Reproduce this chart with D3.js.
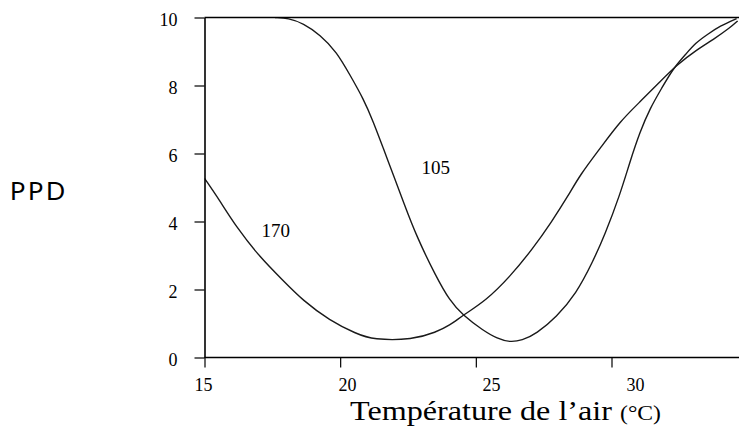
<!DOCTYPE html>
<html><head><meta charset="utf-8">
<script src="https://cdn.jsdelivr.net/npm/d3@7"></script>
<style>body{margin:0;background:#fff}svg{display:block}</style>
</head><body>
<script>
const xTicks = [15, 20, 25, 30];
const yTicks = [0, 2, 4, 6, 8, 10];
const t105 = [17.6,18.09,18.64,19.26,19.87,20.36,20.85,21.22,21.59,21.96,22.33,22.82,23.54,24.03,24.52,25.26,25.8,26.25,26.7,27.23,27.97,28.7,29.3,29.75,30.31,30.68,31.05,31.42,31.85,32.28,32.77,33.1,33.51,34.0,34.61];
const ppd105 = [10,9.98,9.83,9.49,8.99,8.31,7.62,6.94,6.15,5.37,4.58,3.55,2.37,1.68,1.24,0.80,0.55,0.45,0.50,0.70,1.19,1.88,2.8,3.6,4.78,5.76,6.64,7.33,7.92,8.51,8.95,9.25,9.49,9.75,9.97];
const t170 = [15,15.55,16.17,17.03,17.89,18.62,19.61,20.59,21.21,22.68,23.54,24.03,24.52,25.38,26.25,27.1,27.8,28.4,28.84,29.58,30.31,31.05,31.79,32.4,33.14,33.75,34.37,34.65];
const ppd170 = [5.27,4.63,3.84,2.96,2.27,1.68,1.09,0.70,0.52,0.52,0.75,0.94,1.24,1.68,2.37,3.2,4.0,4.75,5.37,6.15,6.94,7.52,8.11,8.6,9.05,9.35,9.7,9.9];
const curveLabels = ["105", "170"];
const labelT = [23.0, 17.1];
const labelP = [5.4, 3.55];

const serif = "'Liberation Serif', 'Times New Roman', serif";
const W = 739, H = 434;
const svg = d3.select("body").append("svg").attr("width", W).attr("height", H);
const x = d3.scaleLinear().domain([15, 30]).range([204.5, 611.5]);
const xLab = d3.scaleLinear().domain([15, 30]).range([203, 635]);
const y = d3.scaleLinear().domain([0, 10]).range([357.5, 17.5]);
const x0 = x(15), x1 = W;

svg.append("defs").append("clipPath").attr("id", "clip")
  .append("rect").attr("x", x0).attr("y", y(10)).attr("width", x1 - x0).attr("height", y(0) - y(10));

const line = d3.line().x(d => x(d[0])).y(d => y(d[1])).curve(d3.curveBasis);
const series = [d3.zip(t105, ppd105), d3.zip(t170, ppd170)];
svg.append("g").attr("clip-path", "url(#clip)").selectAll("path").data(series).join("path")
  .attr("d", line).attr("fill", "none").attr("stroke", "#1a1a1a").attr("stroke-width", 1.4);

// axes
const gy = svg.append("g").attr("transform", `translate(${x0},0)`)
  .call(d3.axisLeft(y).tickValues(yTicks).tickSize(10).tickSizeOuter(0).tickFormat(d3.format("d")));
const gx = svg.append("g").attr("transform", `translate(0,${y(0)})`)
  .call(d3.axisBottom(x).tickValues(xTicks).tickSize(10).tickSizeOuter(0).tickFormat(d3.format("d")));
for (const g of [gy, gx]) {
  g.attr("font-family", serif).attr("font-size", 18);
  g.select(".domain").attr("stroke", "#000").attr("stroke-width", 1.6);
  g.selectAll(".tick line").attr("stroke", "#000").attr("stroke-width", 1.2);
  g.selectAll(".tick text").style("font-family", serif).style("font-size", "18px").attr("fill", "#000");
}
gx.select(".domain").attr("d", `M${x0},0H${x1}`);
gy.selectAll(".tick text").attr("x", -27).attr("dy", "0.42em");
gx.selectAll(".tick text").attr("y", 0).attr("dy", 33.5)
  .attr("transform", d => `translate(${xLab(d) - x(d)},0)`);

// top border
svg.append("line").attr("x1", x0).attr("x2", x1).attr("y1", y(10)).attr("y2", y(10))
  .attr("stroke", "#000").attr("stroke-width", 1.6);

// curve labels
svg.selectAll("text.cl").data(curveLabels).join("text").attr("class", "cl")
  .attr("x", (d, i) => x(labelT[i])).attr("y", (d, i) => y(labelP[i]))
  .style("font-family", serif).style("font-size", "19px")
  .text(d => d);

// axis titles
svg.append("text").attr("x", 350).attr("y", 420)
  .style("font-family", serif).style("font-size", "28px")
  .attr("textLength", 262).attr("lengthAdjust", "spacingAndGlyphs")
  .text("Température de l’air");
svg.append("text").attr("x", 620).attr("y", 420)
  .style("font-family", serif).style("font-size", "21px")
  .attr("textLength", 41).attr("lengthAdjust", "spacingAndGlyphs")
  .text("(°C)");

svg.append("text").attr("x", 10).attr("y", 200)
  .style("font-family", "Lato, 'Noto Sans', sans-serif").style("font-size", "25px")
  .attr("letter-spacing", 3).text("PPD");
</script>
</body></html>
